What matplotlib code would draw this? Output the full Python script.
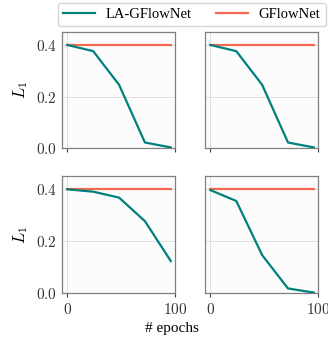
import numpy as np
from matplotlib import pyplot as plt
from matplotlib.ticker import FuncFormatter

# data
epochs = [0, 24, 48, 72, 96]
la_tl = [0.400, 0.376, 0.246, 0.023, 0.004]
la_tr = [0.400, 0.376, 0.246, 0.023, 0.004]
la_bl = [0.400, 0.391, 0.368, 0.277, 0.123]
la_br = [0.397, 0.355, 0.146, 0.017, 0.001]
gfn = [0.400, 0.400, 0.400, 0.400, 0.400]
panels = [la_tl, la_tr, la_bl, la_br]

plt.rcParams['font.family'] = ['Liberation Serif', 'DejaVu Serif']
plt.rcParams['mathtext.fontset'] = 'cm'

teal = '#00807c'
orange = '#f4694f'

fig, axes = plt.subplots(2, 2, figsize=(3.28, 3.37), dpi=100)
fig.subplots_adjust(left=0.189, right=0.970, top=0.905, bottom=0.131,
                    wspace=0.265, hspace=0.24)

math_fmt = FuncFormatter(lambda v, pos: f'${v:.1f}$')
int_fmt = FuncFormatter(lambda v, pos: f'${int(v)}$')

for i, ax in enumerate(axes.flat):
    ax.set_facecolor('#fcfcfc')
    l1, = ax.plot(epochs, panels[i], color=teal, lw=1.6, label='LA-GFlowNet', zorder=3)
    l2, = ax.plot(epochs, gfn, color=orange, lw=1.6, label='GFlowNet', zorder=2)
    ax.set_xlim(-5, 100)
    ax.set_ylim(0, 0.45)
    ax.set_xticks([0, 100])
    ax.set_yticks([0.0, 0.2, 0.4])
    ax.xaxis.set_major_formatter(int_fmt)
    ax.yaxis.set_major_formatter(math_fmt)
    ax.grid(True, color='#e0e0e0', lw=0.7)
    ax.set_axisbelow(True)
    for s in ax.spines.values():
        s.set_color('#808080')
        s.set_linewidth(0.9)
    ax.tick_params(axis='both', labelsize=11, colors='#444444', length=3,
                   width=0.8, direction='out', labelcolor='#333333')
    ax.tick_params(axis='y', length=0)
    if i < 2:
        ax.tick_params(axis='x', labelbottom=False)
    if i % 2 == 1:
        ax.tick_params(axis='y', labelleft=False)
    else:
        ax.set_ylabel('$L_1$', fontsize=12, labelpad=4)

axes[1, 0].set_xlabel('# epochs', fontsize=11)
axes[1, 0].xaxis.set_label_coords(0.97, -0.25)

fig.legend(handles=[l1, l2], loc='upper center', bbox_to_anchor=(0.585, 0.991),
           borderaxespad=0, ncol=2, fontsize=10.5, frameon=True, fancybox=True,
           edgecolor='#cccccc', handlelength=2.2, handletextpad=0.7,
           columnspacing=1.7, borderpad=0.35)

fig.savefig('out.png', dpi=100)
